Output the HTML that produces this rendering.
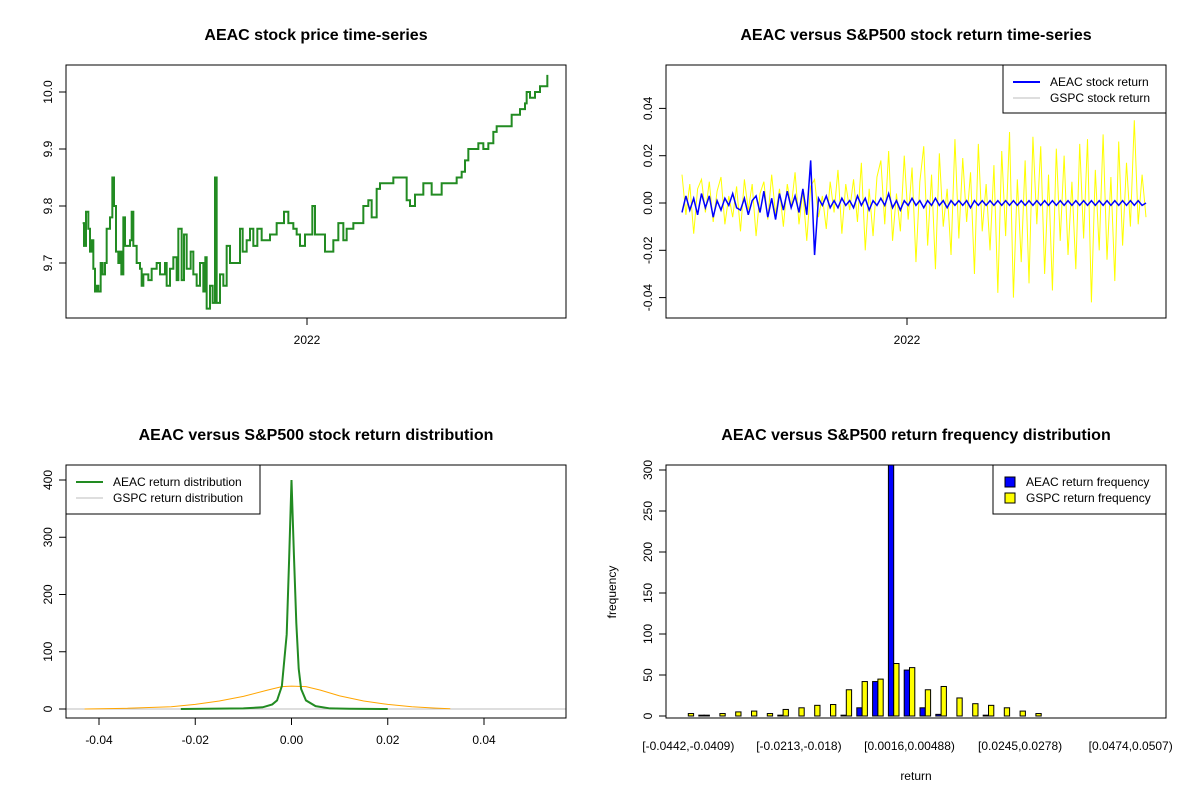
<!DOCTYPE html>
<html><head><meta charset="utf-8">
<style>
body{margin:0;background:#fff;}
svg{display:block;font-family:"Liberation Sans",Arial,sans-serif;}
.t{font-weight:bold;font-size:16px;text-anchor:middle;}
.tk{font-size:12px;}
</style></head>
<body>
<svg id="s" width="1200" height="800" viewBox="0 0 1200 800"></svg>
<script>
// ---- data ----
const priceDay=[68,72,78,85,90,95,100,105,110,115,122,128,135,140,150,157,162,168,175,180,184,190,195,205,210,215,220,230,240,245,250,260,265,275,290,300,315,320,330,340,350,355,365,372,380,392,400,410,420,430,436,440,450,458,465,470,480,490,500,510,520,535,540,548,560,570,580,592,605,615,630,640,650,660,672,685,700,710,720,735,750,757,765,780,795,808,820,835,850,860,880,900,910,925,935,950,960,975,990,1000,1015,1025,1040,1050,1065,1080,1090,1100,1115,1130,1145,1170,1190,1205,1215,1225,1240,1255,1270,1285,1300,1310,1330,1345,1355,1370,1380,1395,1400,1410,1425,1440,1460,1462];
const priceVal=[9.77,9.73,9.79,9.76,9.72,9.74,9.69,9.65,9.66,9.65,9.70,9.68,9.70,9.76,9.78,9.85,9.80,9.72,9.70,9.72,9.68,9.78,9.73,9.73,9.74,9.79,9.73,9.70,9.69,9.66,9.68,9.68,9.67,9.69,9.70,9.68,9.70,9.66,9.69,9.71,9.67,9.76,9.67,9.75,9.69,9.72,9.68,9.66,9.70,9.65,9.71,9.62,9.66,9.63,9.85,9.63,9.68,9.66,9.73,9.70,9.70,9.70,9.76,9.72,9.74,9.76,9.73,9.76,9.74,9.74,9.75,9.75,9.77,9.77,9.79,9.77,9.76,9.75,9.73,9.75,9.75,9.80,9.75,9.75,9.72,9.72,9.74,9.77,9.74,9.76,9.77,9.77,9.80,9.81,9.78,9.83,9.84,9.84,9.84,9.85,9.85,9.85,9.81,9.80,9.82,9.82,9.84,9.84,9.82,9.82,9.84,9.84,9.85,9.86,9.88,9.90,9.90,9.91,9.90,9.91,9.93,9.94,9.94,9.94,9.96,9.96,9.97,9.98,10.00,9.99,10.00,10.01,10.01,10.03];
const priceTicks=[9.7,9.8,9.9,10.0];
const gspcRet=[12,-5,8,-13,6,10,-4,9,-8,5,11,-9,3,-6,7,-12,10,-3,8,-14,4,9,-7,12,-5,6,-10,8,-2,13,-9,5,-16,7,10,-6,3,-11,9,-4,14,-13,8,-3,10,-8,17,-20,6,-14,11,18,-9,22,-16,4,-12,20,-7,15,-25,9,24,-18,12,-28,21,-10,6,-22,27,-15,19,-8,13,-30,25,-12,8,-20,16,-38,22,-14,30,-40,10,-25,18,-34,28,-9,24,-30,12,-37,23,-16,20,-22,9,-28,25,-15,27,-42,14,-20,29,-24,11,-33,26,-18,17,-10,35,-9,12,-6];
const aeacRet=[-4,3,-3,2,-5,4,-2,3,-6,1,-3,2,-1,4,-2,-3,2,-5,1,3,-4,5,-6,2,-7,4,-3,5,-2,3,-4,6,-5,18,-22,2,-1,3,-2,1,-2,2,-1,1,-2,3,-1,2,-3,1,-1,2,-1,4,-2,1,-3,1,-1,2,-1,1,-2,1,-1,2,-1,1,-2,1,-1,1,-1,1,-2,1,-1,1,-1,1,-1,1,-1,1,-1,1,-1,1,-1,1,-1,1,-1,1,-1,1,-1,1,-1,1,-1,1,-1,1,-1,1,-1,1,-1,1,-1,1,-1,1,-1,1,-1,1,-1,0];
const retTicks=["-0.04","-0.02","0.00","0.02","0.04"];
const aeacDx=[-0.023,-0.01,-0.006,-0.004,-0.003,-0.002,-0.001,-0.0005,0,0.0005,0.001,0.0015,0.002,0.003,0.005,0.008,0.012,0.02];
const aeacDy=[0,1,3,8,15,40,130,260,400,270,150,70,35,15,5,1,0.5,0];
const gspcDx=[-0.043,-0.035,-0.025,-0.02,-0.015,-0.01,-0.005,-0.002,0,0.003,0.006,0.01,0.015,0.02,0.025,0.03,0.033];
const gspcDy=[0,1,4,8,14,22,33,39,40,39,33,23,14,8,4,1.5,0.5];
const densXTicks=[-0.04,-0.02,0,0.02,0.04];
const densYTicks=[0,100,200,300,400];
const binLabels=["[-0.0442,-0.0409)","[-0.0213,-0.018)","[0.0016,0.00488)","[0.0245,0.0278)","[0.0474,0.0507)"];
const aeacFreq=[0,1,0,0,0,0,1,0,0,0,1,10,42,330,56,10,2,0,0,1,0,0,0,0,0,0,0,0,0,0];
const gspcFreq=[3,1,3,5,6,3,8,10,13,14,32,42,45,64,59,32,36,22,15,13,10,6,3,0,0,0,0,0,0,0];
const freqTicks=[0,50,100,150,200,250,300];

const NS="http://www.w3.org/2000/svg";
const svg=document.getElementById('s');
function mk(tag,attrs,parent,text){const e=document.createElementNS(NS,tag);for(const k in attrs)e.setAttribute(k,attrs[k]);if(text!==undefined)e.textContent=text;(parent||svg).appendChild(e);return e;}
function box(x0,y0,x1,y1,name){const r=mk('rect',{x:x0,y:y0,width:x1-x0,height:y1-y0,fill:'none',stroke:'#000','stroke-width':1});

}
function title(x,y,t,name){const e=mk('text',{x:x,y:y,class:'t'},svg,t);

}
function ytick(x,y,label,name){mk('line',{x1:x-7,x2:x,y1:y,y2:y,stroke:'#000'});
const e=mk('text',{x:x-14,y:y,class:'tk','text-anchor':'middle',transform:`rotate(-90 ${x-14} ${y})`},svg,label);

}
function xtick(x,y,label,name){mk('line',{x1:x,x2:x,y1:y,y2:y+7,stroke:'#000'});
const e=mk('text',{x:x,y:y+26,class:'tk','text-anchor':'middle'},svg,label);

}

// ---- panel 1: price ----
const P1={x0:66,x1:566,y0:65,y1:318};
const px1=d=>P1.x0+(d-18)/1500*500;
const py1=v=>92+(10.0-v)*570;
let d='';
priceDay.forEach((t,i)=>{const X=px1(t),Y=py1(priceVal[i]);if(i===0)d+=`M${X},${Y}`;else d+=`H${X}V${Y}`;});
const pl=mk('path',{d:d,fill:'none',stroke:'#228B22','stroke-width':2});


box(P1.x0,P1.y0,P1.x1,P1.y1,'price-plot-frame');
title(316,40,'AEAC stock price time-series','price-chart-title');
priceTicks.forEach(v=>ytick(P1.x0,py1(v),v.toFixed(1),'price-y-tick'));
xtick(307,P1.y1,'2022','price-x-tick-2022');

// ---- panel 2: returns ----
const P2={x0:666,x1:1166,y0:65,y1:318};
const n=gspcRet.length;
const px2=i=>682+i/(n-1)*464;
const py2=v=>203-v*0.001*2365;
let dg='',da='';
gspcRet.forEach((v,i)=>{dg+=(i?'L':'M')+px2(i)+','+py2(v);});
aeacRet.forEach((v,i)=>{da+=(i?'L':'M')+px2(i)+','+py2(v);});
const gl=mk('path',{d:dg,fill:'none',stroke:'#ffff00','stroke-width':1});


const al=mk('path',{d:da,fill:'none',stroke:'#0000ff','stroke-width':1.5});


box(P2.x0,P2.y0,P2.x1,P2.y1,'returns-plot-frame');
title(916,40,'AEAC versus S&P500 stock return time-series','returns-chart-title');
retTicks.forEach(l=>ytick(P2.x0,py2(parseFloat(l)*1000),l,'returns-y-tick'));
xtick(907,P2.y1,'2022','returns-x-tick-2022');
{const lg=mk('g',{});


mk('rect',{x:1003,y:65,width:163,height:48,fill:'#fff',stroke:'#000'},lg);
mk('line',{x1:1013,x2:1040,y1:82,y2:82,stroke:'#00f','stroke-width':2},lg);
mk('line',{x1:1013,x2:1040,y1:98,y2:98,stroke:'#bebebe','stroke-width':1},lg);
mk('text',{x:1050,y:86,class:'tk'},lg,'AEAC stock return');
mk('text',{x:1050,y:102,class:'tk'},lg,'GSPC stock return');}

// ---- panel 3: density ----
const P3={x0:66,x1:566,y0:465,y1:718};
const px3=x=>291.5+x*4812.5;
const py3=v=>709-v*0.5725;
const gz=mk('line',{x1:P3.x0,x2:P3.x1,y1:py3(0),y2:py3(0),stroke:'#bebebe'});


let dd='';gspcDx.forEach((x,i)=>{dd+=(i?'L':'M')+px3(x)+','+py3(gspcDy[i]);});
const og=mk('path',{d:dd,fill:'none',stroke:'#FFA500','stroke-width':1});


let de='';aeacDx.forEach((x,i)=>{de+=(i?'L':'M')+px3(x)+','+py3(aeacDy[i]);});
const ag=mk('path',{d:de,fill:'none',stroke:'#228B22','stroke-width':2});


box(P3.x0,P3.y0,P3.x1,P3.y1,'density-plot-frame');
title(316,440,'AEAC versus S&P500 stock return distribution','density-chart-title');
densYTicks.forEach(v=>ytick(P3.x0,py3(v),String(v),'density-y-tick'));
densXTicks.forEach(v=>xtick(px3(v),P3.y1,v===0?'0.00':v.toFixed(2),'density-x-tick'));
{const lg=mk('g',{});


mk('rect',{x:66,y:465,width:194,height:49,fill:'#fff',stroke:'#000'},lg);
mk('line',{x1:76,x2:103,y1:482,y2:482,stroke:'#228B22','stroke-width':2},lg);
mk('line',{x1:76,x2:103,y1:498,y2:498,stroke:'#bebebe'},lg);
mk('text',{x:113,y:486,class:'tk'},lg,'AEAC return distribution');
mk('text',{x:113,y:502,class:'tk'},lg,'GSPC return distribution');}

// ---- panel 4: histogram ----
const P4={x0:666,x1:1166,y0:465,y1:718};
const gx4=i=>683+i*15.8;
const py4=v=>716-v*0.82;
const bw=5.3;
aeacFreq.forEach((v,i)=>{const top=Math.max(py4(v),P4.y0);
const r=mk('rect',{x:gx4(i),y:top,width:bw,height:py4(0)-top,fill:'#0000ff',stroke:'#000'});

});
gspcFreq.forEach((v,i)=>{
const r=mk('rect',{x:gx4(i)+bw,y:py4(v),width:bw,height:py4(0)-py4(v),fill:'#ffff00',stroke:'#000'});

});
box(P4.x0,P4.y0,P4.x1,P4.y1,'histogram-plot-frame');
title(916,440,'AEAC versus S&P500 return frequency distribution','histogram-chart-title');
freqTicks.forEach(v=>ytick(P4.x0,py4(v),String(v),'histogram-y-tick'));
binLabels.forEach((l,k)=>{const i=k*7;const e=mk('text',{x:gx4(i)+bw,y:750,class:'tk','text-anchor':'middle'},svg,l);

});
{const e=mk('text',{x:916,y:780,class:'tk','text-anchor':'middle'},svg,'return');


const f=mk('text',{x:616,y:592,class:'tk','text-anchor':'middle',transform:'rotate(-90 616 592)'},svg,'frequency');

}
{const lg=mk('g',{});


mk('rect',{x:993,y:465,width:173,height:49,fill:'#fff',stroke:'#000'},lg);
mk('rect',{x:1005,y:477,width:10,height:10,fill:'#00f',stroke:'#000'},lg);
mk('rect',{x:1005,y:493,width:10,height:10,fill:'#ff0',stroke:'#000'},lg);
mk('text',{x:1026,y:486,class:'tk'},lg,'AEAC return frequency');
mk('text',{x:1026,y:502,class:'tk'},lg,'GSPC return frequency');}
</script>
</body></html>
